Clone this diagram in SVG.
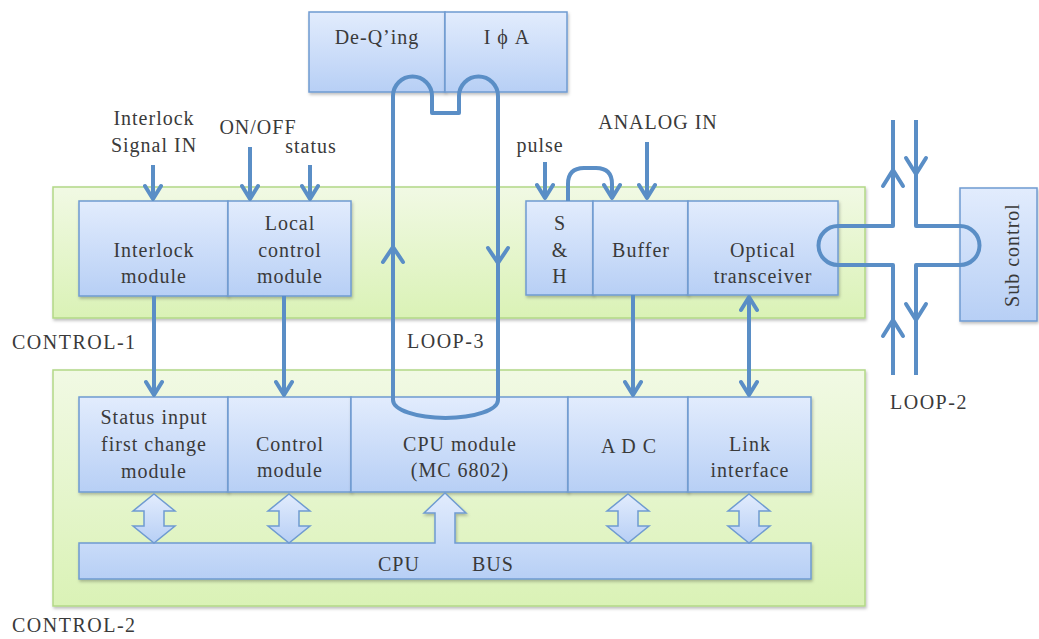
<svg xmlns="http://www.w3.org/2000/svg" width="1039" height="639" viewBox="0 0 1039 639" font-family="'Liberation Serif', 'DejaVu Serif', serif">
<style>
  text { font-family: "Liberation Serif", "DejaVu Serif", serif; font-size: 20px; fill: #3a3a3a; letter-spacing: 1px; }
  .lbl { letter-spacing: 1.5px; }
  .mid { text-anchor: middle; }
  .box { fill: url(#blue); stroke: #6f9bd1; stroke-width: 1.5; filter: url(#sh); }
  .panel { fill: url(#green); stroke: #b2d886; stroke-width: 1.5; filter: url(#sh); }
  .blk { fill: url(#blue); stroke: #6f9bd1; stroke-width: 1.5; }
  .ln { fill: none; stroke: #5a8ec6; stroke-width: 4; stroke-linejoin: round; }
  .arr { marker-end: url(#ah); }
  .chev { fill: none; stroke: #5a8ec6; stroke-width: 4; stroke-linecap: round; stroke-linejoin: round; }
</style>
<defs>
  <linearGradient id="blue" x1="0" y1="0" x2="0" y2="1">
    <stop offset="0" stop-color="#e2ecfd"/>
    <stop offset="1" stop-color="#b7cff5"/>
  </linearGradient>
  <linearGradient id="green" x1="0" y1="0" x2="0" y2="1">
    <stop offset="0" stop-color="#f1f9e4"/>
    <stop offset="1" stop-color="#daf2b6"/>
  </linearGradient>
  <filter id="sh" x="-5%" y="-5%" width="110%" height="115%">
    <feDropShadow dx="1" dy="2" stdDeviation="1.5" flood-color="#000" flood-opacity="0.25"/>
  </filter>
  <marker id="ah" viewBox="0 0 20 20" refX="17" refY="10" markerWidth="20" markerHeight="20" markerUnits="userSpaceOnUse" orient="auto-start-reverse">
    <path d="M4,2 L17,10 L4,18" fill="none" stroke="#5a8ec6" stroke-width="4" stroke-linecap="round" stroke-linejoin="round"/>
  </marker>
</defs>

<!-- panels -->
<g id="control-1">
  <rect class="panel" x="53" y="187" width="812" height="131"/>
  <text class="lbl" x="12" y="349">CONTROL-1</text>
</g>
<g id="control-2">
  <rect class="panel" x="53" y="370" width="812" height="236"/>
  <text class="lbl" x="12" y="632">CONTROL-2</text>
</g>

<!-- top boxes -->
<g id="deqing">
  <rect class="box" x="309" y="12" width="136" height="80"/>
  <text class="mid" x="377" y="44">De-Q’ing</text>
</g>
<g id="ipa">
  <rect class="box" x="445" y="12" width="122" height="80"/>
  <text class="mid" x="507" y="44">I ϕ A</text>
</g>

<!-- row 1 -->
<g id="interlock">
  <rect class="box" x="79" y="201" width="149" height="95"/>
  <text class="mid" x="154" y="257">Interlock</text>
  <text class="mid" x="154" y="283">module</text>
</g>
<g id="local-control">
  <rect class="box" x="228" y="201" width="123" height="95"/>
  <text class="mid" x="290" y="230">Local</text>
  <text class="mid" x="290" y="257">control</text>
  <text class="mid" x="290" y="283">module</text>
</g>
<g id="sh-node">
  <rect class="box" x="526" y="201" width="67" height="94"/>
  <text class="mid" x="560" y="230">S</text>
  <text class="mid" x="560" y="257">&amp;</text>
  <text class="mid" x="560" y="283">H</text>
</g>
<g id="buffer">
  <rect class="box" x="593" y="201" width="95" height="94"/>
  <text class="mid" x="641" y="257">Buffer</text>
</g>
<g id="optical">
  <rect class="box" x="688" y="201" width="150" height="94"/>
  <text class="mid" x="763" y="257">Optical</text>
  <text class="mid" x="763" y="283">transceiver</text>
</g>

<!-- row 2 -->
<g id="status-input">
  <rect class="box" x="79" y="397" width="149" height="95"/>
  <text class="mid" x="154" y="424">Status input</text>
  <text class="mid" x="154" y="451">first change</text>
  <text class="mid" x="154" y="478">module</text>
</g>
<g id="control-module">
  <rect class="box" x="228" y="397" width="123" height="95"/>
  <text class="mid" x="290" y="451">Control</text>
  <text class="mid" x="290" y="477">module</text>
</g>
<g id="cpu-module">
  <rect class="box" x="351" y="397" width="217" height="95"/>
  <text class="mid" x="460" y="451">CPU module</text>
  <text class="mid" x="460" y="477">(MC 6802)</text>
</g>
<g id="adc">
  <rect class="box" x="568" y="397" width="120" height="95"/>
  <text class="mid" x="629" y="453">A D C</text>
</g>
<g id="link">
  <rect class="box" x="688" y="397" width="123" height="95"/>
  <text class="mid" x="750" y="451">Link</text>
  <text class="mid" x="750" y="477">interface</text>
</g>

<!-- CPU bus -->
<g id="cpu-bus">
  <path class="blk" filter="url(#sh)" d="M79,543 H435 V513 H424 L445,493 L466,513 H455 V543 H811 V579 H79 Z"/>
  <text x="378" y="571">CPU</text>
  <text x="472" y="571">BUS</text>
</g>

<!-- sub control -->
<g id="sub-control">
  <rect class="box" x="960" y="188" width="77" height="133"/>
  <text class="mid" transform="translate(1019,255) rotate(-90)">Sub control</text>
</g>

<!-- connectors -->
<g id="connectors">
  <!-- bus double arrows -->
  <path class="blk" d="M154,494 L175,511 H164 V526 H175 L154,543 L133,526 H144 V511 H133 Z"/>
  <path class="blk" d="M289,494 L310,511 H299 V526 H310 L289,543 L268,526 H279 V511 H268 Z"/>
  <path class="blk" d="M628,494 L649,511 H638 V526 H649 L628,543 L607,526 H618 V511 H607 Z"/>
  <path class="blk" d="M749,494 L770,511 H759 V526 H770 L749,543 L728,526 H739 V511 H728 Z"/>

  <!-- inputs -->
  <line class="ln arr" x1="153" y1="165" x2="153" y2="199"/>
  <line class="ln arr" x1="250" y1="147" x2="250" y2="199"/>
  <line class="ln arr" x1="310" y1="165" x2="310" y2="199"/>
  <line class="ln arr" x1="545" y1="162" x2="545" y2="198"/>
  <line class="ln arr" x1="647" y1="142" x2="647" y2="198"/>
  <path class="ln arr" d="M568,201 V184 Q568,168 584,168 H596 Q612,168 612,184 V198"/>

  <!-- row1 to row2 -->
  <line class="ln arr" x1="154" y1="296" x2="154" y2="395"/>
  <line class="ln arr" x1="284" y1="296" x2="284" y2="395"/>
  <line class="ln arr" x1="633" y1="295" x2="633" y2="395"/>
  <line class="ln arr" marker-start="url(#ah)" x1="749" y1="297" x2="749" y2="395"/>

  <!-- LOOP-3 -->
  <path class="ln" d="M393,400 V96 A19.5,19.5 0 0 1 432,96 V113 H459 V96 A19.5,19.5 0 0 1 498,96 V400 A52.5,18 0 0 1 393,400 Z"/>
  <path class="chev" d="M383,262 L393,247 L403,262"/>
  <path class="chev" d="M488,248 L498,263 L508,248"/>

  <!-- LOOP-2 -->
  <path class="ln" d="M893,120 V226 H838 A19.5,19.5 0 0 0 838,265 H893 V375"/>
  <path class="ln" d="M916,120 V226 H960 A19.5,19.5 0 0 1 960,265 H916 V375"/>
  <path class="chev" d="M883,186 L893,170 L903,186"/>
  <path class="chev" d="M906,158 L916,174 L926,158"/>
  <path class="chev" d="M883,336 L893,320 L903,336"/>
  <path class="chev" d="M906,304 L916,320 L926,304"/>
</g>

<!-- free labels -->
<g id="labels">
  <text class="mid" x="154" y="125">Interlock</text>
  <text class="mid" x="154" y="152">Signal IN</text>
  <text class="mid" x="258" y="134">ON/OFF</text>
  <text class="mid" x="311" y="153">status</text>
  <text class="mid" x="540" y="152">pulse</text>
  <text class="mid" x="658" y="129">ANALOG IN</text>
  <text class="lbl" x="407" y="348">LOOP-3</text>
  <text class="lbl" x="890" y="409">LOOP-2</text>
</g>
</svg>
